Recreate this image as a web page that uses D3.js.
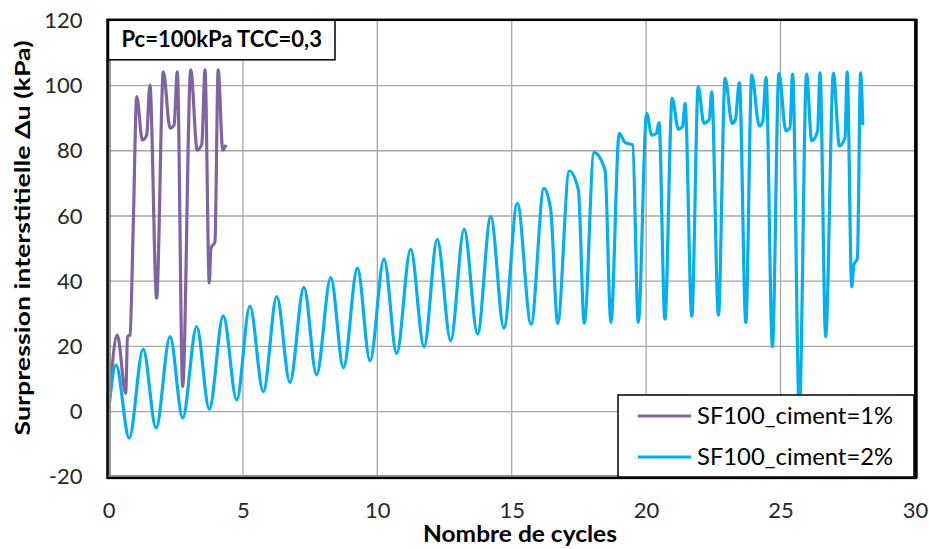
<!DOCTYPE html>
<html>
<head>
<meta charset="utf-8">
<script src="https://cdn.jsdelivr.net/npm/d3@7"></script>
<style>
  body { margin: 0; background: #fff; }
  text { font-family: Lato, "Open Sans", sans-serif; }
</style>
</head>
<body>
<div id="chart"></div>
<script>
// series (cycles, kPa)
const purpleX = [0, 0.33, 0.64, 0.71, 0.80, 0.92, 1.05, 1.26, 1.42, 1.54, 1.79, 2.04, 2.29, 2.44, 2.56, 2.76,
  3.06, 3.30, 3.47, 3.59, 3.75, 3.81, 3.96, 4.08, 4.25, 4.37];
const purpleY = [0, 23.5, 5.6, 23.0, 23.5, 56.7, 96.6, 83.3, 84.8, 100.1, 34.8, 104.2, 86.9, 87.9, 104.2, 7.7,
  104.8, 80.2, 82.0, 104.8, 39.5, 50.1, 52.1, 104.8, 80.2, 81.8];

const blueX = [0, 0.28, 0.77, 1.29, 1.77, 2.29, 2.76, 3.28, 3.75, 4.27, 4.77, 5.26, 5.76, 6.26, 6.75, 7.27,
  7.74, 8.27, 8.74, 9.26, 9.73, 10.25, 10.72, 11.24, 11.74, 12.23, 12.73, 13.23, 13.73, 14.22, 14.71, 15.21,
  15.72, 16.20, 16.45, 16.71, 17.14, 17.48, 17.70, 18.06, 18.47, 18.69, 19.00, 19.22, 19.50, 19.71,
  20.02, 20.21, 20.38, 20.48, 20.70, 20.97, 21.20, 21.36, 21.45, 21.70, 21.94, 22.15, 22.35, 22.44, 22.69,
  22.94, 23.20, 23.32, 23.47, 23.71, 23.93, 24.21, 24.34, 24.46, 24.70, 24.94, 25.20, 25.35, 25.45, 25.70,
  25.97, 26.16, 26.38, 26.47, 26.68, 26.97, 27.19, 27.40, 27.48, 27.65, 27.73, 27.86, 27.98, 28.06];
const blueY = [0, 14.3, -8.1, 19.2, -5.0, 23.0, -1.9, 26.1, 0.8, 29.4, 3.6, 32.4, 6.1, 35.3, 9.0, 38.1,
  11.3, 41.1, 13.5, 44.0, 15.6, 46.8, 17.9, 49.8, 19.9, 52.8, 21.8, 55.9, 23.8, 59.8, 25.6, 63.9,
  26.8, 68.5, 62.0, 27.1, 73.8, 68.0, 27.1, 79.4, 74.1, 27.4, 85.3, 82.5, 81.8, 27.4,
  91.5, 84.8, 85.3, 88.6, 28.4, 96.1, 86.6, 87.5, 94.5, 29.3, 99.6, 88.4, 89.6, 98.1, 29.6,
  102.2, 88.4, 89.5, 100.9, 27.3, 103.2, 87.6, 88.9, 102.5, 19.9, 103.7, 86.1, 87.0, 103.5, 0,
  103.5, 83.1, 86.0, 103.9, 23.0, 103.7, 81.5, 84.0, 104.2, 38.3, 45.0, 47.0, 103.9, 87.9];

const xTicks = [0, 5, 10, 15, 20, 25, 30];
const yTicks = [-20, 0, 20, 40, 60, 80, 100, 120];
const seriesNames = ["SF100_ciment=1%", "SF100_ciment=2%"];
const seriesColors = ["#8064A2", "#00B0F0"];
const boxTitle = "Pc=100kPa TCC=0,3";

const W = 929, H = 549;
const margin = { top: 20.3, right: 14.1, bottom: 72.1, left: 108.5 };
const width = W - margin.left - margin.right;
const height = H - margin.top - margin.bottom;

const svg = d3.select("#chart").append("svg")
    .attr("width", W)
    .attr("height", H);

const g = svg.append("g")
    .attr("transform", `translate(${margin.left},${margin.top})`);

const x = d3.scaleLinear().domain([0, 30]).range([0, width]);
const y = d3.scaleLinear().domain([-20, 120]).range([height, 0]);

// gridlines
g.append("g")
    .selectAll("line")
    .data(yTicks)
    .join("line")
    .attr("x1", 0).attr("x2", width)
    .attr("y1", d => y(d)).attr("y2", d => y(d))
    .attr("stroke", "#a6a6a6").attr("stroke-width", 1.3);
g.append("g")
    .selectAll("line")
    .data(xTicks)
    .join("line")
    .attr("y1", 0).attr("y2", height)
    .attr("x1", d => x(d)).attr("x2", d => x(d))
    .attr("stroke", "#a6a6a6").attr("stroke-width", 1.3);

// tick labels through d3 axes (plain hyphen for negatives, like the original)
const xAxis = g.append("g")
    .attr("transform", `translate(0,${height})`)
    .call(d3.axisBottom(x).tickValues(xTicks).tickFormat(d => String(d)).tickSize(0).tickPadding(25));
const yAxis = g.append("g")
    .call(d3.axisLeft(y).tickValues(yTicks).tickFormat(d => String(d)).tickSize(0).tickPadding(26));
[xAxis, yAxis].forEach(a => {
    a.select(".domain").remove();
    a.selectAll("text").attr("font-family", "Lato, sans-serif").attr("font-size", 22).attr("fill", "#262626");
});

// series
g.append("clipPath").attr("id", "clip")
    .append("rect").attr("width", width).attr("height", height);

const line = d3.line()
    .x(d => x(d[0]))
    .y(d => y(d[1]))
    .curve(d3.curveMonotoneX);

const purple = purpleX.map((v, i) => [v, purpleY[i]]);
const blue = blueX.map((v, i) => [v, blueY[i]]);

g.append("path")
    .datum(purple)
    .attr("clip-path", "url(#clip)")
    .attr("fill", "none")
    .attr("stroke", seriesColors[0])
    .attr("stroke-width", 3.2)
    .attr("stroke-linejoin", "round")
    .attr("d", line);

g.append("path")
    .datum(blue)
    .attr("clip-path", "url(#clip)")
    .attr("fill", "none")
    .attr("stroke", seriesColors[1])
    .attr("stroke-width", 3.2)
    .attr("stroke-linejoin", "round")
    .attr("d", line);

// plot frame: black border, grey axis lines on left and bottom
g.append("rect")
    .attr("x", -1).attr("y", -0.5)
    .attr("width", width + 2).attr("height", height + 1.5)
    .attr("fill", "none").attr("stroke", "#000").attr("stroke-width", 2.5);
g.append("line")
    .attr("x1", 1.5).attr("x2", 1.5).attr("y1", 0).attr("y2", height)
    .attr("stroke", "#8c8c8c").attr("stroke-width", 1.8);
g.append("line")
    .attr("x1", 0).attr("x2", width).attr("y1", height - 1).attr("y2", height - 1)
    .attr("stroke", "#8c8c8c").attr("stroke-width", 1.8);
g.append("line")
    .attr("x1", width + 1).attr("x2", width + 1).attr("y1", -1).attr("y2", height + 1)
    .attr("stroke", "#000").attr("stroke-width", 3.5);

// title box, sized from its text
const tb = g.append("g");
const tbRect = tb.append("rect")
    .attr("x", 0).attr("y", 0)
    .attr("height", 39.5)
    .attr("fill", "#fff").attr("stroke", "#000").attr("stroke-width", 1.5);
const tbText = tb.append("text")
    .attr("x", 13).attr("y", 27)
    .attr("font-size", 22).attr("font-weight", "bold").attr("fill", "#000")
    .text(boxTitle);
tbRect.attr("width", tbText.node().getComputedTextLength() + 26);

// legend
const lg = g.append("g")
    .attr("transform", `translate(${618 - margin.left},${395 - margin.top})`);
lg.append("rect")
    .attr("width", 296).attr("height", 82)
    .attr("fill", "#fff").attr("stroke", "#000").attr("stroke-width", 1.5);
seriesNames.forEach((name, i) => {
    const yy = 21 + i * 41;
    lg.append("line")
        .attr("x1", 20).attr("x2", 73).attr("y1", yy).attr("y2", yy)
        .attr("stroke", seriesColors[i]).attr("stroke-width", 3);
    lg.append("text")
        .attr("x", 79).attr("y", yy + 8)
        .attr("font-size", 23).attr("fill", "#000")
        .attr("textLength", 196).attr("lengthAdjust", "spacingAndGlyphs")
        .text(name);
});

// axis titles
svg.append("text")
    .attr("x", 520).attr("y", 542)
    .attr("text-anchor", "middle")
    .attr("font-size", 22).attr("font-weight", "bold").attr("fill", "#000")
    .attr("textLength", 194).attr("lengthAdjust", "spacingAndGlyphs")
    .text("Nombre de cycles");

svg.append("text")
    .attr("transform", `translate(30,238) rotate(-90)`)
    .attr("text-anchor", "middle")
    .attr("font-size", 21).attr("font-weight", "bold").attr("fill", "#000")
    .attr("textLength", 395).attr("lengthAdjust", "spacingAndGlyphs")
    .text("Surpression interstitielle Δu (kPa)");
</script>
</body>
</html>
